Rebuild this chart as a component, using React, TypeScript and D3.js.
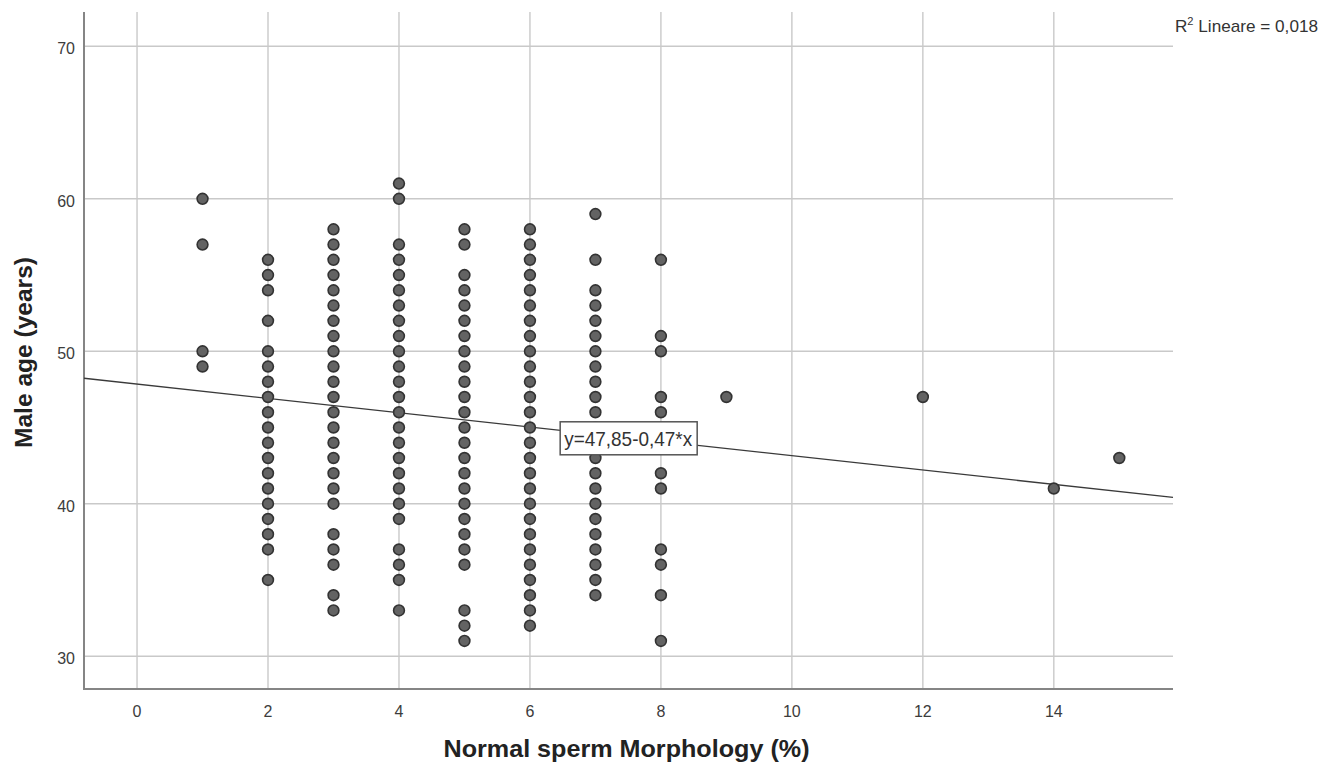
import * as React from "react";
import * as d3 from "d3";

// ages observed at each morphology value
const morph1 = [60, 57, 50, 49];
const morph2 = [56, 55, 54, 52, 50, 49, 48, 47, 46, 45, 44, 43, 42, 41, 40, 39, 38, 37, 35];
const morph3 = [58, 57, 56, 55, 54, 53, 52, 51, 50, 49, 48, 47, 46, 45, 44, 43, 42, 41, 40, 38, 37, 36, 34, 33];
const morph4 = [61, 60, 57, 56, 55, 54, 53, 52, 51, 50, 49, 48, 47, 46, 45, 44, 43, 42, 41, 40, 39, 37, 36, 35, 33];
const morph5 = [58, 57, 55, 54, 53, 52, 51, 50, 49, 48, 47, 46, 45, 44, 43, 42, 41, 40, 39, 38, 37, 36, 33, 32, 31];
const morph6 = [58, 57, 56, 55, 54, 53, 52, 51, 50, 49, 48, 47, 46, 45, 44, 43, 42, 41, 40, 39, 38, 37, 36, 35, 34, 33, 32];
const morph7 = [59, 56, 54, 53, 52, 51, 50, 49, 48, 47, 46, 45, 44, 43, 42, 41, 40, 39, 38, 37, 36, 35, 34];
const morph8 = [56, 51, 50, 47, 46, 42, 41, 37, 36, 34, 31];
const morph9 = [47];
const morph12 = [47];
const morph14 = [41];
const morph15 = [43];

const columns: [number, number[]][] = [
  [1, morph1],
  [2, morph2],
  [3, morph3],
  [4, morph4],
  [5, morph5],
  [6, morph6],
  [7, morph7],
  [8, morph8],
  [9, morph9],
  [12, morph12],
  [14, morph14],
  [15, morph15],
];

const xTicks = [0, 2, 4, 6, 8, 10, 12, 14];
const yTicks = [30, 40, 50, 60, 70];

const intercept = 47.85;
const slope = -0.47;
const fitLabel = "y=47,85-0,47*x";
const labelAt = 7.5;

const width = 1331;
const height = 772;
const margin = { top: 12, right: 158, bottom: 83, left: 84 };

export default function App() {
  const ref = React.useRef<SVGSVGElement>(null);

  React.useEffect(() => {
    const svg = d3.select(ref.current);
    svg.selectAll("*").remove();

    const x = d3.scaleLinear().domain([-0.81, 15.82]).range([margin.left, width - margin.right]);
    const y = d3.scaleLinear().domain([27.85, 72.25]).range([height - margin.bottom, margin.top]);
    const [x0, x1] = x.range();
    const [y0, y1] = y.range();

    const points = columns.flatMap(([m, ages]) => ages.map((a) => ({ m, a })));

    const grid = svg.append("g").attr("stroke", "#c9c9c9").attr("stroke-width", 1.4);
    grid
      .selectAll(".gx")
      .data(xTicks)
      .enter()
      .append("line")
      .attr("x1", (d) => x(d))
      .attr("x2", (d) => x(d))
      .attr("y1", y0)
      .attr("y2", y1);
    grid
      .selectAll(".gy")
      .data(yTicks)
      .enter()
      .append("line")
      .attr("x1", x0)
      .attr("x2", x1)
      .attr("y1", (d) => y(d))
      .attr("y2", (d) => y(d));

    // axes
    svg
      .append("path")
      .attr("d", `M${x0},${y1}V${y0}H${x1}`)
      .attr("fill", "none")
      .attr("stroke", "#858585")
      .attr("stroke-width", 2);

    svg
      .append("g")
      .attr("font-family", "Liberation Sans, Arial, sans-serif")
      .attr("font-size", 16)
      .attr("fill", "#3c3c3c")
      .selectAll("text")
      .data(xTicks)
      .enter()
      .append("text")
      .attr("x", (d) => x(d))
      .attr("y", y0 + 28)
      .attr("text-anchor", "middle")
      .text((d) => d);

    svg
      .append("g")
      .attr("font-family", "Liberation Sans, Arial, sans-serif")
      .attr("font-size", 16)
      .attr("fill", "#3c3c3c")
      .selectAll("text")
      .data(yTicks)
      .enter()
      .append("text")
      .attr("x", x0 - 9)
      .attr("y", (d) => y(d) + 8)
      .attr("text-anchor", "end")
      .text((d) => d);

    // fit line
    svg
      .append("line")
      .attr("x1", x0)
      .attr("x2", x1)
      .attr("y1", y(intercept + slope * x.invert(x0)))
      .attr("y2", y(intercept + slope * x.invert(x1)))
      .attr("stroke", "#3a3a3a")
      .attr("stroke-width", 1.3);

    svg
      .append("g")
      .selectAll("circle")
      .data(points)
      .enter()
      .append("circle")
      .attr("cx", (d) => x(d.m))
      .attr("cy", (d) => y(d.a))
      .attr("r", 5.4)
      .attr("fill", "#636363")
      .attr("stroke", "#333")
      .attr("stroke-width", 1.6);

    // fit label
    const lx = x(labelAt);
    const ly = y(intercept + slope * labelAt);
    svg
      .append("rect")
      .attr("x", lx - 68)
      .attr("y", ly - 16)
      .attr("width", 137)
      .attr("height", 33)
      .attr("fill", "#fff")
      .attr("stroke", "#555")
      .attr("stroke-width", 1.5);
    svg
      .append("text")
      .attr("x", lx - 64)
      .attr("y", ly + 8)
      .attr("font-family", "Liberation Sans, Arial, sans-serif")
      .attr("font-size", 21)
      .attr("fill", "#333")
      .attr("textLength", 128)
      .attr("lengthAdjust", "spacingAndGlyphs")
      .text(fitLabel);

    const r2 = svg
      .append("text")
      .attr("x", x1 + 2)
      .attr("y", 32)
      .attr("font-family", "Liberation Sans, Arial, sans-serif")
      .attr("font-size", 17)
      .attr("fill", "#333")
      .attr("textLength", 143)
      .attr("lengthAdjust", "spacingAndGlyphs");
    r2.append("tspan").text("R");
    r2.append("tspan").attr("dy", -7).attr("font-size", 11).text("2");
    r2.append("tspan").attr("dy", 7).text(" Lineare = 0,018");

    svg
      .append("text")
      .attr("x", (x0 + x1) / 2 - 2)
      .attr("y", 757)
      .attr("text-anchor", "middle")
      .attr("font-family", "Liberation Sans, Arial, sans-serif")
      .attr("font-weight", "bold")
      .attr("font-size", 24)
      .attr("fill", "#222")
      .attr("textLength", 366)
      .attr("lengthAdjust", "spacingAndGlyphs")
      .text("Normal sperm Morphology (%)");

    svg
      .append("text")
      .attr("transform", `translate(32,${(y0 + y1) / 2 + 2}) rotate(-90)`)
      .attr("text-anchor", "middle")
      .attr("font-family", "Liberation Sans, Arial, sans-serif")
      .attr("font-weight", "bold")
      .attr("font-size", 24)
      .attr("fill", "#222")
      .attr("textLength", 191)
      .attr("lengthAdjust", "spacingAndGlyphs")
      .text("Male age (years)");
  }, []);

  return (
    <svg
      ref={ref}
      width={width}
      height={height}
      style={{ position: "absolute", left: 0, top: 0, background: "#fff" }}
    />
  );
}
